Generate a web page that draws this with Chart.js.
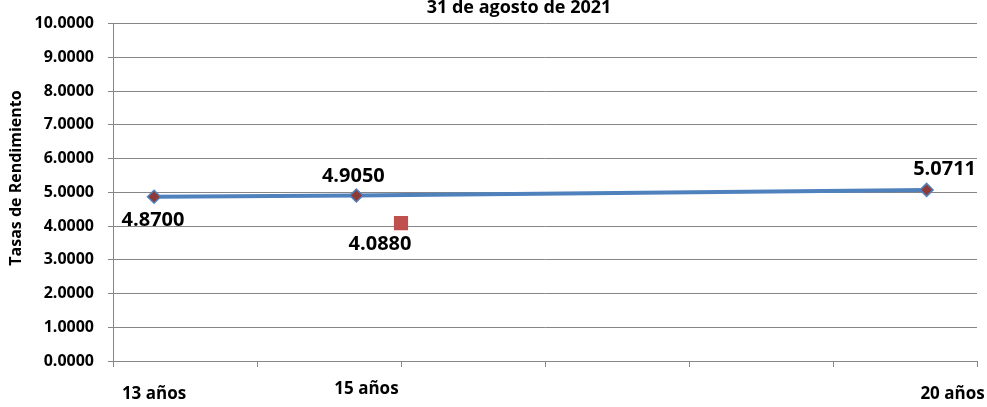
<!DOCTYPE html>
<html>
<head>
<meta charset="utf-8">
<script src="https://cdn.jsdelivr.net/npm/chart.js@4"></script>
<style>
  html, body { margin: 0; padding: 0; background: #fff; }
  #wrap { width: 987px; height: 407px; }
</style>
</head>
<body>
<div id="wrap"><canvas id="curva"></canvas></div>
<script>
// Datos
const titulo = '31 de agosto de 2021';
const tituloEje = 'Tasas de Rendimiento';
const plazos = ['13 años', '15 años', '20 años'];
const posPlazos = [0.285, 1.76, 5.83];      // posicion de las etiquetas en el eje x
const xCurva = [0.285, 1.69, 5.65];
const tasasCurva = [4.87, 4.905, 5.0711];
const xSubasta = [2.0];
const tasasSubasta = [4.088];

const fuente = '"Open Sans", Lato, sans-serif';

// desplazamiento de cada etiqueta de valor respecto a su punto
const offsetsCurva = [[-1, 24], [-3, -19], [18, -21]];
const offsetsSubasta = [[-21, 21]];

const textosPlugin = {
  id: 'textos',
  afterDraw(chart) {
    const ctx = chart.ctx;
    const xs = chart.scales.x;
    ctx.save();
    ctx.fillStyle = '#000';
    ctx.textAlign = 'center';
    ctx.textBaseline = 'middle';

    // titulo
    ctx.font = 'bold 18px ' + fuente;
    ctx.fillText(titulo, 519, 8);

    // titulo del eje y
    ctx.save();
    ctx.translate(16, 178);
    ctx.rotate(-Math.PI / 2);
    ctx.font = 'bold 16px ' + fuente;
    ctx.fillText(tituloEje, 0, 0);
    ctx.restore();

    // etiquetas del eje x
    ctx.font = 'bold 17px ' + fuente;
    const dy = [394, 389, 394];
    plazos.forEach((p, i) => {
      ctx.fillText(p, xs.getPixelForValue(posPlazos[i]), dy[i]);
    });

    // etiquetas de valores
    ctx.font = 'bold 20px ' + fuente;
    const dibujar = (dsIndex, valores, offsets) => {
      chart.getDatasetMeta(dsIndex).data.forEach((pt, i) => {
        ctx.fillText(valores[i].toFixed(4), pt.x + offsets[i][0], pt.y + offsets[i][1]);
      });
    };
    dibujar(0, tasasCurva, offsetsCurva);
    dibujar(1, tasasSubasta, offsetsSubasta);
    ctx.restore();
  }
};

const ctx = document.getElementById('curva').getContext('2d');
new Chart(ctx, {
  type: 'scatter',
  data: {
    datasets: [{
      label: 'Curva',
      data: xCurva.map((x, i) => ({ x: x, y: tasasCurva[i] })),
      showLine: true,
      borderColor: '#4F81BD',
      borderWidth: 4,
      pointStyle: 'rectRot',
      pointRadius: 6.5,
      pointBackgroundColor: '#8E3A38',
      pointBorderColor: '#4F81BD',
      pointBorderWidth: 1.5
    }, {
      label: 'Subasta',
      data: xSubasta.map((x, i) => ({ x: x, y: tasasSubasta[i] })),
      showLine: false,
      pointStyle: 'rect',
      pointRadius: 10,
      pointBackgroundColor: '#C0504D',
      pointBorderColor: '#C0504D',
      pointBorderWidth: 0
    }]
  },
  options: {
    responsive: true,
    maintainAspectRatio: false,
    animation: false,
    layout: {
      padding: { top: 19, right: 10, left: 0, bottom: 0 }
    },
    plugins: {
      legend: { display: false },
      tooltip: { enabled: false }
    },
    scales: {
      x: {
        type: 'linear',
        min: 0,
        max: 6,
        afterFit: s => { s.height = 46; },
        ticks: {
          stepSize: 1,
          callback: () => ''
        },
        grid: {
          drawOnChartArea: false,
          drawTicks: true,
          tickLength: 6,
          color: '#868686'
        },
        border: { color: '#868686' }
      },
      y: {
        min: 0,
        max: 10,
        afterFit: s => { s.width = 113; },
        ticks: {
          stepSize: 1,
          padding: 14,
          color: '#000',
          font: { family: fuente, size: 16, weight: 'bold' },
          callback: v => v.toFixed(4)
        },
        grid: {
          color: '#868686',
          tickLength: 5
        },
        border: { color: '#868686' }
      }
    }
  },
  plugins: [textosPlugin]
});
</script>
</body>
</html>
